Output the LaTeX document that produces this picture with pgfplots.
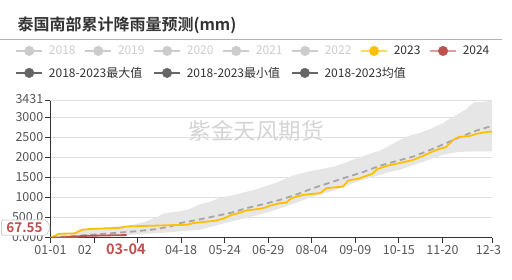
\documentclass[border=0pt]{standalone}
\usepackage{fontspec}
\setmainfont{Noto Sans CJK SC}[BoldFont={Noto Sans CJK SC Bold}]
\usepackage{pgfplots}
\usepgfplotslibrary{fillbetween}
\pgfplotsset{compat=1.18}
\definecolor{band}{HTML}{E6E6E6}
\definecolor{meangray}{HTML}{A6A6A6}
\definecolor{yel}{HTML}{FFC000}
\definecolor{yellt}{HTML}{FFD966}
\definecolor{redd}{HTML}{C0504D}
\definecolor{redlt}{HTML}{DDA09E}
\definecolor{inact}{HTML}{CCCCCC}
\definecolor{dk}{HTML}{666666}
\definecolor{txt}{HTML}{333333}
\definecolor{tick}{HTML}{555555}
\definecolor{gridc}{HTML}{E0E0E0}
\definecolor{wm}{HTML}{D4D4D4}

\pgfplotsset{leg/.style 2 args={legend image code/.code={\draw[#1,line width=1.8bp] (0bp,0bp) -- (25.7bp,0bp); \fill[#2] (12.85bp,0bp) circle (4.8bp);}}}

\pgfplotstableread{
x y
0 0
7 100
22 140
26 200
33 225
41 235
55 283
63 300
69 330
80 420
88 520
93 600
100 640
107 660
115 720
124 840
132 900
140 1000
150 1060
162 1150
172 1230
181 1320
190 1420
198 1530
207 1610
217 1680
226 1730
234 1780
244 1880
253 1990
262 2080
272 2180
280 2300
289 2450
297 2560
305 2620
314 2720
324 2860
331 3000
338 3110
344 3230
350 3390
358 3400
365 3431
}\maxtab

\pgfplotstableread{
x y
0 0
20 10
40 30
60 60
75 90
90 120
100 140
107 160
115 180
124 200
136 300
148 400
160 480
170 560
178 620
188 720
198 820
207 920
217 1030
226 1110
236 1200
244 1300
253 1400
262 1480
272 1570
280 1640
289 1700
298 1800
308 1900
316 1990
324 2070
332 2120
338 2150
350 2160
365 2160
}\mintab

\pgfplotstableread{
x y
0 0
22 50
41 92
55 125
69 158
88 217
100 290
107 367
120 440
135 533
150 630
162 742
176 840
190 950
204 1090
217 1240
231 1380
245 1517
259 1650
272 1800
286 1920
300 2033
314 2200
327 2367
340 2540
352 2680
365 2800
}\meantab

\pgfplotstableread{
x y
0 0
3 40
7 100
20 110
26 200
33 220
41 230
58 250
63 283
91 308
105 320
113 325
118 367
124 390
136 425
143 480
150 575
156 620
162 683
173 725
178 760
181 800
190 867
195 880
199 990
209 1075
223 1117
228 1240
242 1283
246 1433
255 1480
261 1550
266 1600
270 1717
278 1800
290 1880
300 1950
308 2050
316 2160
322 2230
327 2267
333 2450
337 2517
347 2550
352 2600
358 2633
365 2660
}\yeartwothree

\pgfplotstableread{
x y
0 0
10 10
22 30
26 45
40 55
63 67.55
}\yeartwofour

\begin{document}
\begin{tikzpicture}
\path (0,0) rectangle (512bp,280bp);
\node[anchor=base west, font=\fontsize{16bp}{18bp}\selectfont\bfseries, text=txt, inner sep=0pt] at (17bp,249bp) {泰国南部累计降雨量预测(mm)};
\draw[color=gray!60, line width=1bp] (0bp,240bp) -- (502bp,240bp);

\begin{axis}[
  at={(50bp,42bp)}, anchor=south west, scale only axis,
  width=442bp, height=137.24bp,
  xmin=0, xmax=365, ymin=0, ymax=3431,
  axis x line*=bottom, axis y line*=left,
  axis line style={-, draw=txt, line width=1bp},
  tick align=outside, major tick length=5bp,
  tick style={draw=txt, line width=0.8bp},
  ymajorgrids, grid style={draw=gridc, line width=0.8bp},
  ytick={0,500,1000,1500,2000,2500,3000,3431},
  yticklabels={0.000,500.0,1000,1500,2000,2500,3000,3431},
  xtick={0,36,72,108,144,180,216,252,288,324,365},
  xticklabels={01-01,02\phantom{-06},,04-18,05-24,06-29,08-04,09-09,10-15,11-20,12-3\phantom{1}},
  /pgf/number format/assume math mode=true,
  ticklabel style={font=\fontsize{12.5bp}{14bp}\selectfont, text=tick},
  yticklabel style={inner xsep=2bp, yshift=1.2bp},
  xticklabel style={inner ysep=2bp},
  legend columns=7,
  legend style={at={(axis description cs:-0.0792,1.3626)}, anchor=west,
    draw=none, fill=none, inner sep=0pt, outer sep=0pt,
    nodes={inner sep=0pt, font=\fontsize{12bp}{14bp}\selectfont},
    /tikz/every odd column/.append style={column sep=6bp},
    /tikz/every even column/.append style={column sep=8.9bp}},
  legend cell align=left,
]
\addlegendimage{leg={inact}{inact}}
\addlegendentry[text=inact]{2018}
\addlegendimage{leg={inact}{inact}}
\addlegendentry[text=inact]{2019}
\addlegendimage{leg={inact}{inact}}
\addlegendentry[text=inact]{2020}
\addlegendimage{leg={inact}{inact}}
\addlegendentry[text=inact]{2021}
\addlegendimage{leg={inact}{inact}}
\addlegendentry[text=inact]{2022}
\addlegendimage{leg={yellt}{yel}}
\addlegendentry[text=txt]{2023}
\addlegendimage{leg={redlt}{redd}}
\addlegendentry[text=txt]{2024}

\addplot[name path=up, draw=none, forget plot] table[x=x,y=y] {\maxtab};
\addplot[name path=lo, draw=none, forget plot] table[x=x,y=y] {\mintab};
\addplot[fill=band, draw=none, forget plot] fill between[of=up and lo];
\addplot[meangray, line width=1.8bp, dash pattern=on 6bp off 4bp, forget plot] table[x=x,y=y] {\meantab};
\addplot[yel, line width=1.8bp, forget plot] table[x=x,y=y] {\yeartwothree};
\addplot[redd, line width=1.8bp, forget plot] table[x=x,y=y] {\yeartwofour};
\end{axis}

\begin{axis}[
  at={(50bp,42bp)}, anchor=south west, scale only axis,
  width=442bp, height=137.24bp,
  xmin=0, xmax=365, ymin=0, ymax=3431, hide axis,
  legend columns=3,
  legend style={at={(axis description cs:-0.0792,1.2023)}, anchor=west,
    draw=none, fill=none, inner sep=0pt, outer sep=0pt,
    nodes={inner sep=0pt, font=\fontsize{12bp}{14bp}\selectfont, text=txt},
    /tikz/every odd column/.append style={column sep=6bp},
    /tikz/every even column/.append style={column sep=11bp}},
  legend cell align=left,
]
\addplot[draw=none, forget plot] coordinates {(0,0) (365,3431)};
\addlegendimage{leg={dk}{dk}}
\addlegendentry{2018-2023最大值}
\addlegendimage{leg={dk}{dk}}
\addlegendentry{2018-2023最小值}
\addlegendimage{leg={dk}{dk}}
\addlegendentry{2018-2023均值}
\end{axis}

\node[font=\fontsize{22.5bp}{24bp}\selectfont, text=wm, inner sep=0pt] at (256bp,148.5bp) {紫金天风期货};

\draw[draw=gray!40, fill=white, line width=0.7bp, rounded corners=1.5bp] (1bp,44.5bp) -- (46bp,44.5bp) -- (50bp,52.2bp) -- (46bp,59.8bp) -- (1bp,59.8bp) -- cycle;
\node[font=\fontsize{13.5bp}{15bp}\selectfont\bfseries, text=redd, inner sep=0pt] at (24bp,52.2bp) {67.55};
\node[font=\fontsize{14.5bp}{16bp}\selectfont\bfseries, text=redd, inner sep=0pt] at (125.5bp,30bp) {03-04};
\end{tikzpicture}
\end{document}
